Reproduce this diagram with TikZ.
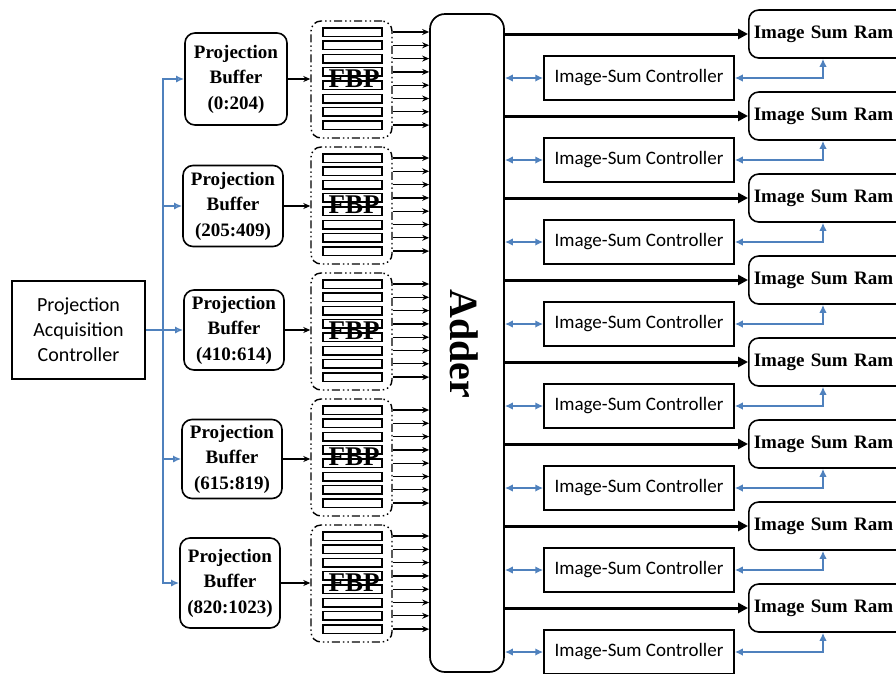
\documentclass[tikz,border=0pt]{standalone}
\usepackage{fontspec}
\setmainfont{Liberation Serif}
\newfontfamily\carl{Carlito}
\usetikzlibrary{arrows.meta,calc}
\definecolor{obl}{RGB}{79,129,189}
\begin{document}
\begin{tikzpicture}[x=1pt,y=-1pt,
 buf/.style={draw,line width=1.6pt,rounded corners=10pt,align=center,inner sep=1pt,font=\bfseries\fontsize{19}{25.5}\selectfont},
 fbpgrp/.style={draw,line width=1.4pt,rounded corners=10pt,dash pattern=on 8pt off 3pt on 1.5pt off 3pt on 1.5pt off 3pt,minimum width=81pt,minimum height=117pt,inner sep=0pt},
 slot/.style={draw,line width=1.5pt,minimum width=59pt,minimum height=8.5pt,inner sep=0pt},
 fbptxt/.style={font=\bfseries\fontsize{27}{28}\selectfont,inner sep=0pt},
 thinarr/.style={line width=1.3pt,-{Stealth[length=7pt,width=6pt]}},
 thickarr/.style={line width=3pt,-{Triangle[length=10pt,width=10pt]}},
 blu/.style={obl,line width=2.2pt},
 blutip/.style={{Latex[length=8pt,width=7.5pt]}-{Latex[length=8pt,width=7.5pt]}},
 ram/.style={draw,line width=1.6pt,rounded corners=10pt,minimum height=48pt,minimum width=160pt,text width=150pt,align=left,inner xsep=5pt,font=\bfseries\fontsize{19}{22}\selectfont,anchor=west},
 ctrl/.style={draw,line width=1.5pt,minimum width=190pt,minimum height=44pt,font=\carl\fontsize{19}{22}\selectfont,inner sep=0pt},
 pacbox/.style={draw,line width=1.7pt,minimum width=133pt,minimum height=98pt,align=center,font=\carl\fontsize{20}{25}\selectfont},
 adderbox/.style={draw,line width=1.7pt,rounded corners=15pt,minimum width=74pt,minimum height=658pt,inner sep=0pt}
]
\useasboundingbox (0,0) rectangle (896,673);
\clip (0,0) rectangle (896,673);

% Projection Acquisition Controller
\node[pacbox] (pac) at (78.5,330) {Projection\\Acquisition\\Controller};
\coordinate (bus) at (163,330);

% Projection buffers
\foreach \i/\x/\y/\w/\h/\t in {1/236/79/102/92/{(0:204)},2/233/206/100/81/{(205:409)},3/234/330/100/80/{(410:614)},4/232/459/100/79/{(615:819)},5/230/583/100/90/{(820:1023)}}{
  \node[buf,minimum width=\w pt,minimum height=\h pt] (b\i) at (\x,\y) {Projection\\Buffer\\\t};
}

% Adder
\node[adderbox] (adder) at (467,343) {};
\node[rotate=-90,font=\bfseries\fontsize{40}{42}\selectfont,inner sep=0pt] (adderlbl) at (464,344) {Adder};

% FBP groups
\foreach \g in {1,...,5}{
  \pgfmathsetmacro{\top}{21+126*(\g-1)}
  \node[fbpgrp] (f\g) at (351.5,\top+58.5) {};
  \node[fbptxt] (ft\g) at (354,\top+58) {FBP};
  \foreach \k in {0,...,7}{
    \node[slot] (s\g-\k) at (352.5,\top+11+13.3*\k) {};
    \draw[thinarr] (s\g-\k.center -| f\g.east) -- (s\g-\k.center -| adder.west);
  }
  \draw[thinarr] (b\g.east) -- (b\g.east -| f\g.west);
}

% bus from controller to buffers
\draw[blu,line width=2pt] (pac.east) -- (bus);
\foreach \i in {1,...,5}{
  \draw[blu,line width=2pt,-{Latex[length=8pt,width=7pt,open]}] (bus) |- (b\i.west);
}

% Image sum rams and controllers
\foreach \i in {1,...,8}{
  \pgfmathsetmacro{\ry}{34+82*(\i-1)}
  \pgfmathsetmacro{\cy}{78+82*(\i-1)}
  \node[ram] (r\i) at (748,\ry) {Image Sum Ram};
  \node[ctrl] (c\i) at (639,\cy) {Image-Sum Controller};
  \draw[thickarr] (r\i.west -| adder.east) -- (r\i.west);
  \draw[blu,blutip] (c\i.west -| adder.east) -- (c\i.west);
  \draw[blu,blutip] (c\i.east) -| ([xshift=75pt]r\i.south west);
}
\end{tikzpicture}
\end{document}
